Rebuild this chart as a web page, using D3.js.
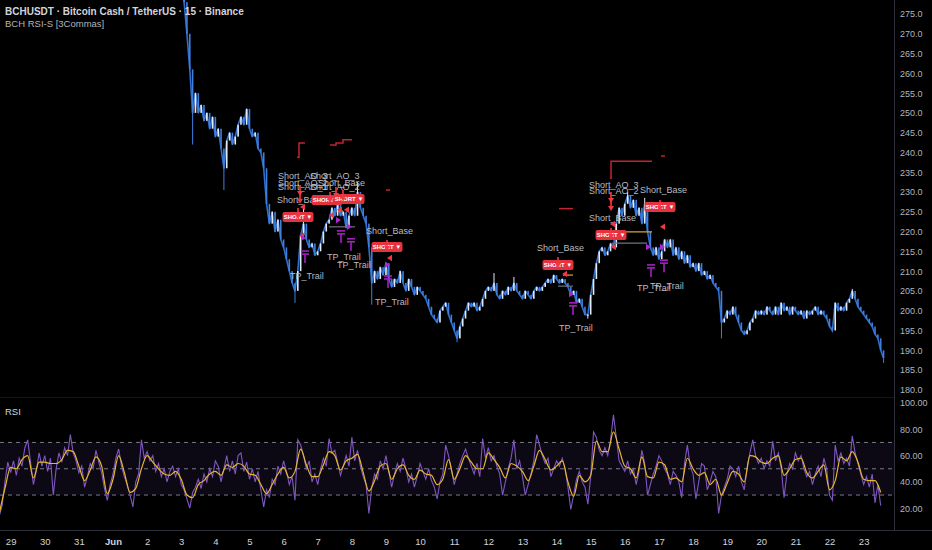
<!DOCTYPE html>
<html><head><meta charset="utf-8">
<script src="https://cdn.jsdelivr.net/npm/d3@7"></script>
<style>
html,body{margin:0;padding:0;background:#000;}
svg{display:block;font-family:"Liberation Sans",Arial,sans-serif;}
</style></head><body>
<svg id="c" width="932" height="550"></svg>
<script>
// ---------------- DATA ----------------
const titleText = "BCHUSDT · Bitcoin Cash / TetherUS · 15 · Binance";
const indicatorText = "BCH RSI-S [3Commas]";
const timeDomain = ["2022-05-28T16:31:00Z", "2022-06-23T22:03:00Z"];
const priceStart = "2022-06-03T00:00:00Z";
const priceStepHours = 2;
const priceClose = [
285,278,270,261,250,255,250,252,248,250,246,249,
244,246,241,236,243,245,242,244,247,249,247,251,
246,244,245,241,240,236,227,222,225,220,223,218,
216,213,210,207,205,210,219,222,218,216,217,214,
215,217,220,222,223,226,224,227,224,225,221,224,
226,224,230,226,224,222,216,207,210,208,211,209,
212,208,206,208,207,210,207,205,208,206,204,206,
205,204,203,201,199,198,197,200,201,202,199,197,
195,193,196,198,200,202,201,202,200,201,203,205,
206,205,207,204,203,205,204,206,205,207,205,204,
203,205,204,203,205,206,205,206,207,208,207,209,
208,207,208,207,206,204,205,202,203,201,199,199,
204,208,212,215,216,214,215,217,216,222,226,224,
227,229,226,228,224,226,222,227,220,216,214,216,
213,215,218,216,218,214,216,213,215,212,214,211,
212,210,212,209,210,208,209,207,206,205,197,198,
200,199,201,199,197,195,194,195,197,198,200,199,
200,199,201,200,199,201,199,202,200,201,199,201,
200,199,200,198,200,199,200,201,199,200,199,198,
196,195,202,200,201,200,202,203,205,203,201,200,
199,198,197,196,194,193,190,188];
// [candle index, wick extreme price]
const priceWicks = [[4,242],[15,230.5],[40,202],[43,226],[62,232.5],[67,201.5],[97,192],[110,209.5],[117,208.5],[143,198],[157,230],[163,228.5],[190,193],[229,194.5],[236,205.5],[247,186.8]];

const rsiStart = "2022-05-28T16:00:00Z";
const rsiStepHours = 2;
const rsiValues = [
14,22,40,55,47,56,45,58,52,66,72,55,
38,48,62,52,60,48,58,30,50,62,55,66,
60,76,62,56,47,52,36,44,54,50,64,55,
47,35,26,38,46,58,65,52,44,38,30,21,
40,46,72,58,63,56,60,48,54,44,50,40,
48,52,44,50,38,34,27,20,32,36,42,35,
46,40,50,44,56,52,40,50,60,48,56,46,
60,62,48,55,42,50,40,48,34,21,34,28,
42,38,52,46,56,48,38,44,26,72,68,60,
50,56,40,46,38,50,58,52,73,62,64,55,
45,52,60,52,74,56,64,52,44,38,16,36,
46,42,56,50,60,48,36,46,54,48,58,50,
40,46,36,44,54,48,42,50,41,36,27,40,
46,68,60,50,38,46,54,60,65,58,52,46,
54,44,73,58,66,56,60,52,46,30,40,50,
58,72,50,56,44,30,38,46,56,76,68,60,
54,58,44,50,56,52,58,50,36,19,30,42,
48,40,36,23,44,78,74,64,60,66,60,72,
91,74,56,52,48,56,46,50,38,48,64,54,
30,38,46,52,60,56,50,46,38,48,45,40,
28,54,68,52,46,27,40,54,52,34,40,48,
44,16,30,36,42,52,50,44,52,40,34,50,
62,72,60,54,58,50,56,52,71,56,62,50,
28,46,54,50,62,56,60,50,44,48,38,46,
52,44,58,50,30,26,68,56,62,54,58,52,
75,62,54,46,38,44,36,46,24,38,22];
const rsiMaStepHours = 4;
const rsiMaValues = [
16,35,51,50,57,60,43,55,55,54,54,57,
64,63,52,41,49,59,52,31,42,60,47,32,
35,50,60,55,50,46,45,48,42,30,28,38,
41,46,48,45,53,51,54,52,46,45,38,31,
38,46,51,43,48,65,53,44,44,53,63,60,
49,56,58,61,47,33,41,52,54,42,50,53,
45,42,49,46,45,38,42,57,42,50,60,55,
50,50,62,57,51,43,54,52,48,41,52,64,
57,49,52,56,40,29,45,40,45,71,63,63,
78,65,52,50,43,59,44,43,55,53,42,43,
40,58,50,45,47,38,42,30,39,48,46,40,
60,59,55,54,58,60,45,50,57,58,47,43,
48,53,34,41,59,56,63,55,42,41,41,32];

const priceTicks = [180,185,190,195,200,205,210,215,220,225,230,235,240,245,250,255,260,265,270,275];
const rsiTicks = [20,40,60,80,100];
const rsiLevels = [70,50,30];
const dayTickRange = ["2022-05-29T00:00:00Z", "2022-06-24T00:00:00Z"];

// signals: day offset from Jun 1 00:00, price
const signalBase = "2022-06-01T00:00:00Z";
const shortBoxes = [[5.422,223.7],[6.272,228.0],[6.917,228.2],[8.030,216.1],[13.042,211.55],[14.596,219.1],[16.032,226.2]];
const shortArrows = [[5.481,229.0],[5.481,227.0],[5.422,223.2],[6.360,227.2],[6.536,228.5],[6.741,227.7],[8.030,215.1],[13.042,210.8],[14.596,227.2],[14.596,225.2],[14.596,218.1],[16.032,225.2]];
const entryMarks = [[5.569,226.2],[5.539,218.9],[6.419,224.2],[6.653,225.5],[6.858,225.5],[8.118,213.3],[13.247,209.3],[14.654,221.9],[14.683,216.1],[16.120,221.2]];
const exitMarks = [[5.569,218.4],[6.594,222.9],[6.917,221.2],[8.030,211.6],[13.423,204.2],[15.680,216.1],[16.090,216.1]];
const tpMarks = [[5.627,213.3],[6.682,218.4],[6.975,216.4],[8.060,207.0],[13.482,200.2],[15.768,209.8],[16.149,211.0]];
const signalTexts = [[4.836,234.0,"Short_AO_3"],[5.774,234.0,"Short_AO_3"],[4.836,232.4,"Short_AO_2"],[6.008,232.4,"Short_Base"],[4.836,231.3,"Short_AO_1"],[5.774,231.3,"Short_AO_2"],[4.807,228.0,"Short_Base"],[5.188,208.8,"TP_Trail"],[6.272,213.6,"TP_Trail"],[6.565,211.6,"TP_Trail"],[7.415,220.1,"Short_Base"],[7.679,202.2,"TP_Trail"],[12.427,215.8,"Short_Base"],[13.072,195.6,"TP_Trail"],[13.951,231.8,"Short_AO_3"],[13.951,230.3,"Short_AO_2"],[15.446,230.5,"Short_Base"],[13.951,223.4,"Short_Base"],[15.357,205.7,"TP_Trail"],[15.738,206.2,"TP_Trail"]];
const stopLines = [
 [[5.393,238.8],[5.451,242.4],[5.627,242.4]],
 [[6.360,241.9],[6.536,242.4],[6.741,243.2],[7.005,243.2]],
 [[8.001,230.5],[8.118,230.5]],
 [[13.072,225.8],[13.482,225.8]],
 [[14.567,233.5],[14.596,237.8],[15.797,237.8]],
 [[16.061,239.1],[16.178,239.1]]];
const targetLines = [[13.189,13.482,209.0],[14.625,15.797,219.9],[6.594,6.741,225.2]];
const refLines = [[13.042,13.482,206.2],[14.625,15.651,217.1],[6.331,7.093,221.2]];

// ---------------- CHART ----------------
const W = 932, H = 550, plotR = 894;
const HOUR = 36e5, DAY = 864e5;
const svg = d3.select('#c');
svg.append('rect').attr('width', W).attr('height', H).attr('fill', '#000');

const x = d3.scaleUtc().domain(timeDomain.map(s => new Date(s))).range([0, 895]);
const y = d3.scaleLinear().domain([275, 185]).range([14, 370]);
const yr = d3.scaleLinear().domain([100, 20]).range([403, 508.2]);

const defs = svg.append('defs');
defs.append('clipPath').attr('id', 'cp').append('rect').attr('x', 0).attr('y', 0).attr('width', plotR).attr('height', 397);
defs.append('clipPath').attr('id', 'cr').append('rect').attr('x', 0).attr('y', 397).attr('width', plotR).attr('height', 133);

const pStart = new Date(priceStart).getTime();
const candles = priceClose.map((c, i) => ({
  t: new Date(pStart + i * priceStepHours * HOUR),
  o: i === 0 ? c + 3 : priceClose[i - 1], c
}));

const pricePane = svg.append('g').attr('clip-path', 'url(#cp)');
const upCol = '#e3ebf8', dnCol = '#3f7fe0';

// connecting trace of closes (fills gaps between aggregated candles)
const closeLine = d3.line().x(d => x(d.t)).y(d => y(d.c));
pricePane.append('path').attr('d', closeLine(candles)).attr('fill', 'none')
  .attr('stroke', '#2f6fd0').attr('stroke-width', 1.6).attr('stroke-linejoin', 'round');

// wicks
pricePane.append('g').selectAll('line').data(priceWicks).join('line')
  .attr('x1', d => x(candles[d[0]].t)).attr('x2', d => x(candles[d[0]].t))
  .attr('y1', d => { const k = candles[d[0]]; return y(d[1] > Math.max(k.o, k.c) ? Math.max(k.o, k.c) : Math.min(k.o, k.c)); })
  .attr('y2', d => y(d[1]))
  .attr('stroke', d => { const k = candles[d[0]]; return k.c >= k.o ? upCol : dnCol; })
  .attr('stroke-width', 1);

pricePane.append('g').selectAll('rect').data(candles).join('rect')
  .attr('x', d => x(d.t) - 0.8).attr('width', 1.6)
  .attr('y', d => y(Math.max(d.o, d.c)))
  .attr('height', d => Math.max(1, Math.abs(y(d.o) - y(d.c))))
  .attr('fill', d => d.c >= d.o ? upCol : dnCol);

// signal overlays
const sb = new Date(signalBase).getTime();
const sx = d => x(new Date(sb + d * DAY));
const ov = svg.append('g').attr('clip-path', 'url(#cp)');

const stepLine = d3.line().x(d => sx(d[0])).y(d => y(d[1])).curve(d3.curveStepAfter);
ov.append('g').selectAll('path').data(stopLines).join('path')
  .attr('d', stepLine).attr('fill', 'none').attr('stroke', '#c4232f').attr('stroke-width', 1.5);
ov.append('g').selectAll('line').data(refLines).join('line')
  .attr('x1', d => sx(d[0])).attr('x2', d => sx(d[1])).attr('y1', d => y(d[2])).attr('y2', d => y(d[2]))
  .attr('stroke', '#6f737d').attr('stroke-width', 1.2);
ov.append('g').selectAll('line').data(targetLines).join('line')
  .attr('x1', d => sx(d[0])).attr('x2', d => sx(d[1])).attr('y1', d => y(d[2])).attr('y2', d => y(d[2]))
  .attr('stroke', '#d9a62a').attr('stroke-width', 1.2);

ov.append('g').selectAll('text').data(signalTexts).join('text')
  .attr('x', d => sx(d[0])).attr('y', d => y(d[1])).attr('dy', '0.35em')
  .attr('fill', '#b8bbc3').attr('font-size', 9).text(d => d[2]);

const boxes = ov.append('g').selectAll('g').data(shortBoxes).join('g')
  .attr('transform', d => `translate(${sx(d[0])},${y(d[1])})`);
boxes.append('rect').attr('x', -15.5).attr('y', -5).attr('width', 31).attr('height', 10).attr('rx', 2)
  .attr('fill', '#e5323f');
boxes.append('text').attr('text-anchor', 'middle').attr('dy', '0.35em').attr('fill', '#fff')
  .attr('font-size', 6).attr('font-weight', 600).text('SHORT ▼');

ov.append('g').selectAll('path').data(shortArrows).join('path')
  .attr('transform', d => `translate(${sx(d[0])},${y(d[1])})`)
  .attr('d', 'M-0.8,-11 L0.8,-11 L0.8,-5 L3,-5 L0,0 L-3,-5 L-0.8,-5 Z')
  .attr('fill', '#f23645');

ov.append('g').selectAll('path').data(entryMarks).join('path')
  .attr('transform', d => `translate(${sx(d[0])},${y(d[1])})`)
  .attr('d', 'M-3,0 L2,-3.2 L2,3.2 Z').attr('fill', '#f23645');
ov.append('g').selectAll('path').data(exitMarks).join('path')
  .attr('transform', d => `translate(${sx(d[0])},${y(d[1])})`)
  .attr('d', 'M3,0 L-2,-3.2 L-2,3.2 Z').attr('fill', '#b026d0');
const tps = ov.append('g').selectAll('g').data(tpMarks).join('g')
  .attr('transform', d => `translate(${sx(d[0])},${y(d[1])})`)
  .attr('stroke', '#a51fc4').attr('stroke-width', 1.6);
tps.append('line').attr('x1', -4).attr('x2', 4).attr('y1', -7).attr('y2', -7);
tps.append('line').attr('x1', -4).attr('x2', 4).attr('y1', -4).attr('y2', -4);
tps.append('line').attr('x1', 0).attr('x2', 0).attr('y1', -4).attr('y2', 5);

// ---------------- RSI PANE ----------------
const rp = svg.append('g').attr('clip-path', 'url(#cr)');
rp.append('rect').attr('x', 0).attr('width', plotR).attr('y', yr(70)).attr('height', yr(30) - yr(70))
  .attr('fill', 'rgba(126,87,194,0.1)');
rp.append('g').selectAll('line').data(rsiLevels).join('line')
  .attr('x1', 0).attr('x2', plotR).attr('y1', d => yr(d)).attr('y2', d => yr(d))
  .attr('stroke', '#787b86').attr('stroke-dasharray', '4,4').attr('stroke-width', 1);

const rS = new Date(rsiStart).getTime();
const rsiLine = d3.line().x((d, i) => x(new Date(rS + i * rsiStepHours * HOUR))).y(d => yr(d));
rp.append('path').attr('d', rsiLine(rsiValues)).attr('fill', 'none').attr('stroke', '#7e57c2').attr('stroke-width', 1.1);
const maLine = d3.line().x((d, i) => x(new Date(rS + i * rsiMaStepHours * HOUR))).y(d => yr(d)).curve(d3.curveMonotoneX);
rp.append('path').attr('d', maLine(rsiMaValues)).attr('fill', 'none').attr('stroke', '#e9b72c').attr('stroke-width', 1.2);

// ---------------- AXES ----------------
svg.append('line').attr('x1', plotR + 0.5).attr('x2', plotR + 0.5).attr('y1', 0).attr('y2', 530).attr('stroke', '#2e3039');
svg.append('line').attr('x1', 0).attr('x2', W).attr('y1', 530.5).attr('y2', 530.5).attr('stroke', '#2e3039');
svg.append('line').attr('x1', 0).attr('x2', plotR).attr('y1', 397.5).attr('y2', 397.5).attr('stroke', '#15161b');

const ga = svg.append('g').attr('transform', `translate(${plotR},0)`)
  .call(d3.axisRight(y).tickValues(priceTicks).tickFormat(d3.format('.1f')).tickSize(0).tickPadding(6));
ga.select('.domain').remove();
ga.selectAll('text').attr('fill', '#b2b5be').attr('font-size', 9).attr('font-family', '"Liberation Sans",Arial,sans-serif');

const gr = svg.append('g').attr('transform', `translate(${plotR},0)`)
  .call(d3.axisRight(yr).tickValues(rsiTicks).tickFormat(d3.format('.2f')).tickSize(0).tickPadding(6));
gr.select('.domain').remove();
gr.selectAll('text').attr('fill', '#b2b5be').attr('font-size', 9).attr('font-family', '"Liberation Sans",Arial,sans-serif');

const days = d3.utcDay.range(new Date(dayTickRange[0]), new Date(dayTickRange[1]));
const gx = svg.append('g').attr('transform', 'translate(0,530)')
  .call(d3.axisBottom(x).tickValues(days).tickFormat(d => d.getUTCDate() === 1 ? 'Jun' : String(d.getUTCDate())).tickSize(0).tickPadding(8));
gx.select('.domain').remove();
gx.selectAll('text').attr('fill', '#d1d4dc').attr('font-size', 9.5).attr('font-family', '"Liberation Sans",Arial,sans-serif')
  .attr('font-weight', d => d.getUTCDate() === 1 ? 700 : 400);

// ---------------- TITLES ----------------
svg.append('text').attr('x', 5).attr('y', 11).attr('dy', '0.35em').attr('fill', '#d1d4dc')
  .attr('font-size', 10).attr('font-weight', 600).text(titleText);
svg.append('text').attr('x', 5).attr('y', 23.5).attr('dy', '0.35em').attr('fill', '#b2b5be')
  .attr('font-size', 9.5).text(indicatorText);
svg.append('text').attr('x', 5).attr('y', 412).attr('dy', '0.35em').attr('fill', '#d1d4dc')
  .attr('font-size', 9.5).text('RSI');
</script>
</body></html>
